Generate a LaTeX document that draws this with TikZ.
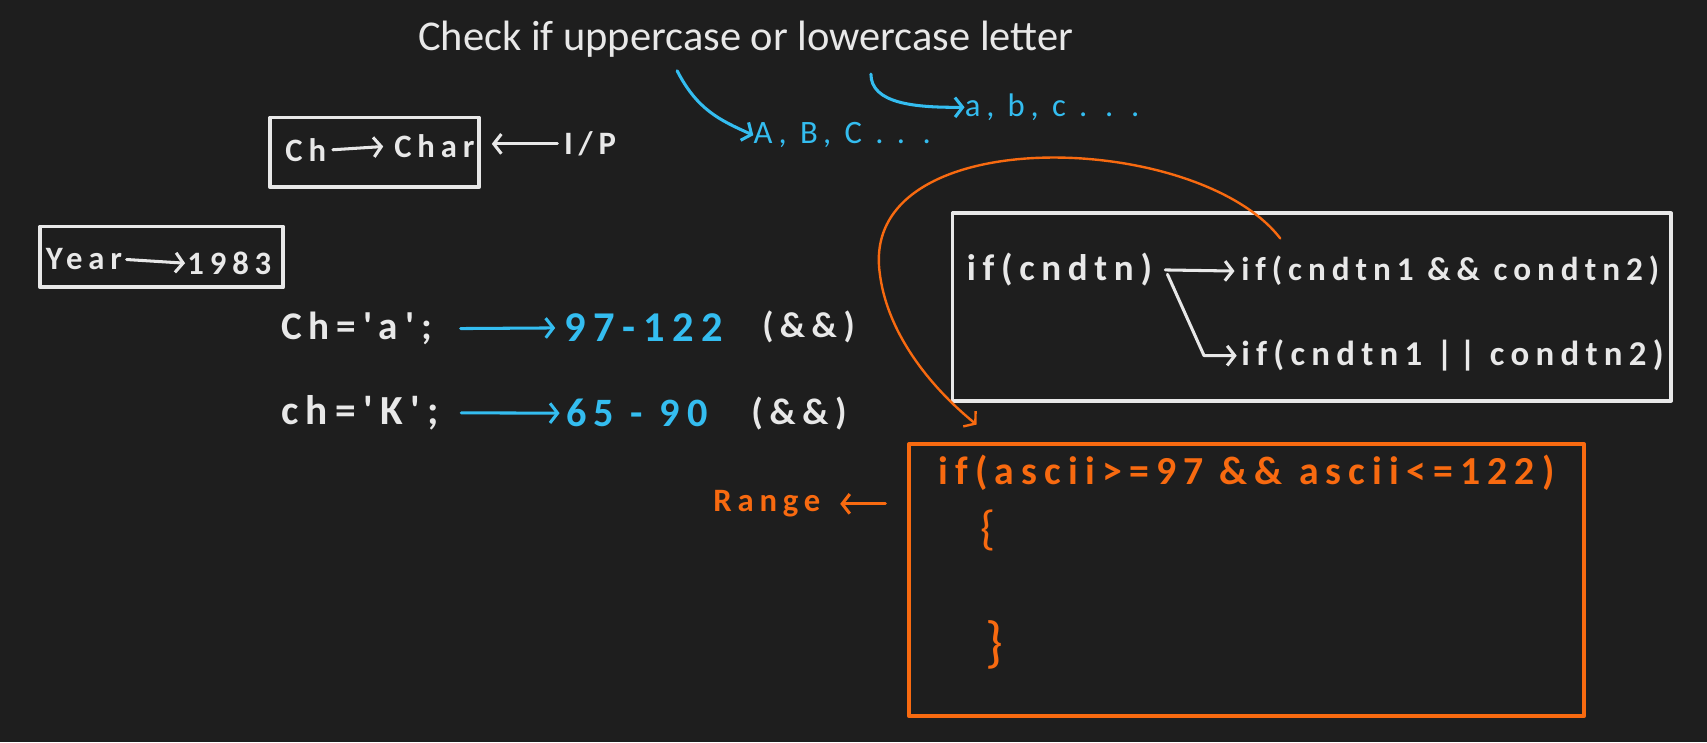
\documentclass[tikz,border=0pt]{standalone}
\usepackage{fontspec}
\setmainfont{Carlito}
\newfontfamily\handfont[LetterSpace=18]{Carlito}
\newcommand\handsize[1]{\handfont\bfseries\fontsize{#1}{#1}\selectfont}
\usetikzlibrary{arrows.meta}
\definecolor{board}{HTML}{1E1E1E}
\definecolor{chalk}{HTML}{E8E8E8}
\definecolor{sky}{HTML}{34BDF0}
\definecolor{ember}{HTML}{F86A10}

\begin{document}
\begin{tikzpicture}[x=1pt,y=-1pt,line cap=round,line join=round]
\tikzset{hand/.style={font=\handsize{30},inner sep=0pt,anchor=base west},
  note/.style={hand,text=chalk},
  code/.style={hand,text=sky},
  warm/.style={hand,text=ember},
  frame/.style={draw=chalk,line width=3.5pt},
  warmframe/.style={draw=ember,line width=3.5pt},
  barb/.style={-{Straight Barb[length=7pt,width=18pt]}},
  wire/.style={barb,chalk,line width=2.8pt},
  skywire/.style={barb,sky,line width=2.8pt},
  warmwire/.style={barb,ember,line width=2.8pt}}
\fill[board] (0,0) rectangle (1568,682);
\node[text=chalk,font=\fontsize{39}{42}\selectfont] (title) at (685,36) {Check if uppercase or lowercase letter};
\node[code,font=\handfont\fontsize{30}{34}\selectfont] (upper) at (692,132) {A, B, C . . .};
\node[code,font=\handfont\fontsize{30}{34}\selectfont] (lower) at (886,107) {a, b, c . . .};
\coordinate (t1) at (622,65);
\coordinate (t2) at (800,68);
\draw[skywire] (t1) .. controls (640,100) and (660,110) .. (upper.west);
\draw[skywire] (t2) .. controls (800,95) and (840,99) .. (lower.west);
\node[frame,minimum width=192pt,minimum height=64pt] (chbox) at (344,140) {};
\node[note] (chvar) at (262,148) {Ch};
\node[note] (chtype) at (362,145) {Char};
\node[note] (iop) at (518,142) {I/P};
\draw[wire] ([xshift=6pt]chvar.east) -- ([xshift=-10pt]chtype.west);
\draw[wire] ([xshift=-6pt]iop.west) -- ([xshift=10pt]iop.west -| chbox.east);
\node[frame,minimum width=223pt,minimum height=56pt] (yearbox) at (148.5,236) {};
\node[note] (yvar) at (42,248) {Year};
\node[note] (yval) at (172,252) {1983};
\draw[wire] ([xshift=4pt]yvar.east) -- ([xshift=-2pt]yval.west);
\node[note,font=\handsize{36}] (rowa) at (258,312) {Ch='a';};
\node[code,font=\handsize{39}] (numa) at (518,314) {97-122};
\node[note,font=\handsize{33}] (ampa) at (700,310) {(\&\&)};
\node[note,font=\handsize{38}] (rowk) at (258,390) {ch='K';};
\node[code,font=\handsize{37}] (numk) at (520,392) {65 - 90};
\node[note,font=\handsize{34}] (ampk) at (690,390) {(\&\&)};
\draw[skywire] ([xshift=26pt]rowa.east) -- ([xshift=-8pt]numa.west);
\draw[skywire] ([xshift=20pt]rowk.east) -- ([xshift=-6pt]numk.west);
\node[frame,minimum width=660pt,minimum height=172pt] (condbox) at (1205,282) {};
\node[note,font=\handsize{34}] (cond) at (888,258) {if(cndtn)};
\node[note,font=\handsize{30.5}] (andc) at (1140,258) {if(cndtn1 \&\& condtn2)};
\node[note,font=\handsize{32}] (orc) at (1140,336) {if(cndtn1 || condtn2)};
\draw[wire] ([xshift=12pt]cond.east) -- ([xshift=-6pt]andc.west);
\draw[wire] ([xshift=14pt,yshift=-4pt]cond.east) -- ([xshift=-34pt]orc.west) -- ([xshift=-4pt]orc.west);
\node[warmframe,minimum width=620pt,minimum height=250pt] (rangebox) at (1145,533) {};
\node[warm,font=\handsize{36.5}] (asc) at (862,445) {if(ascii>=97 \&\& ascii<=122)};
\node[warm] (range) at (655,470) {Range};
\node[text=ember,font=\fontsize{44}{48}\selectfont] (lbrace) at (908,487) {\{};
\node[text=ember,font=\fontsize{52}{56}\selectfont] (rbrace) at (913,592) {\}};
\draw[warmwire] ([xshift=-20pt]range.west -| rangebox.west) -- ([xshift=18pt]range.east);
\coordinate (loopstart) at (1176,219);
\coordinate (loopend) at (897,390);
\draw[barb,ember,line width=2.2pt] (loopstart) .. controls (1100,120) and (790,110) .. (808,250) .. controls (815,310) and (860,360) .. (loopend);
\end{tikzpicture}
\end{document}
